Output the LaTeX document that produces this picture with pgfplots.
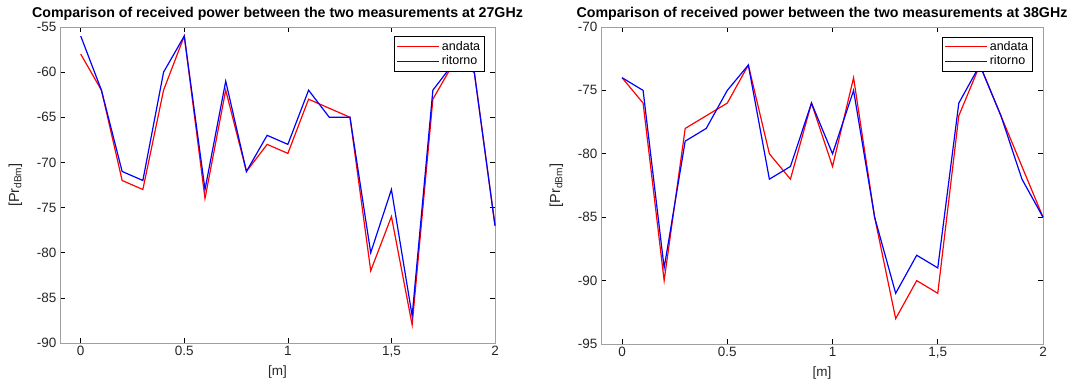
\documentclass[border=0pt]{standalone}
\usepackage{fontspec}
\setmainfont{Liberation Sans}
\usepackage{pgfplots}
\pgfplotsset{compat=1.18}
\definecolor{axgray}{RGB}{160,160,160}
\definecolor{txt}{RGB}{38,38,38}
\pgfplotsset{mstyle/.style={
  scale only axis,
  xmin=-0.1, xmax=2,
  xtick={0,0.5,1,1.5,2}, xticklabels={0,0.5,1,{1,5},2},
  tick align=inside, major tick length=5pt,
  tick style={black, line width=0.6pt},
  axis line style={axgray, line width=0.8pt},
  ticklabel style={font=\fontsize{13.5}{15}\selectfont, text=txt},
  /pgf/number format/assume math mode=true,
  xlabel={[m]}, ylabel={[Pr\textsubscript{dBm}]},
  label style={font=\fontsize{13.5}{15}\selectfont, text=txt},
  xlabel style={yshift=-1pt},
  ylabel style={yshift=8pt, font=\fontsize{14.5}{16}\selectfont},
  title style={font=\bfseries\fontsize{14.2}{16}\selectfont, yshift=-3pt},
  legend style={at={(0.977,0.97)}, anchor=north east, draw=black, line width=0.6pt,
     font=\fontsize{12.5}{14}\selectfont, row sep=0pt, inner sep=2.5pt},
  legend cell align=left,
  legend image code/.code={\draw[mark repeat=2,mark phase=2,line width=1.2pt,#1] plot coordinates {(0pt,0pt) (21pt,0pt) (42pt,0pt)};},
  every axis plot/.append style={line width=1.2pt, mark=none},
  clip=false,
}}
\begin{document}
\begin{tikzpicture}
\useasboundingbox (0,0) rectangle (1089pt,385pt);
\begin{axis}[mstyle, at={(60pt,42pt)}, anchor=south west, width=435pt, height=316pt,
  ymin=-90, ymax=-55, ytick={-90,-85,-80,-75,-70,-65,-60,-55},
  title={Comparison of received power between the two measurements at 27GHz}]
\addplot[red] coordinates {(0,-58) (0.1,-62) (0.2,-72) (0.3,-73) (0.4,-62) (0.5,-56) (0.6,-74) (0.7,-62) (0.8,-71) (0.9,-68) (1.0,-69) (1.1,-63) (1.2,-64) (1.3,-65) (1.4,-82) (1.5,-76) (1.6,-88) (1.7,-63) (1.8,-59) (1.9,-60) (2.0,-77)};
\addplot[blue] coordinates {(0,-56) (0.1,-62) (0.2,-71) (0.3,-72) (0.4,-60) (0.5,-56) (0.6,-73) (0.7,-61) (0.8,-71) (0.9,-67) (1.0,-68) (1.1,-62) (1.2,-65) (1.3,-65) (1.4,-80) (1.5,-73) (1.6,-87) (1.7,-62) (1.8,-59) (1.9,-60) (2.0,-77)};
\legend{andata,ritorno}
\end{axis}
\begin{axis}[mstyle, at={(601pt,41pt)}, anchor=south west, width=442pt, height=317pt,
  ymin=-95, ymax=-70, ytick={-95,-90,-85,-80,-75,-70},
  title={Comparison of received power between the two measurements at 38GHz}]
\addplot[red] coordinates {(0,-74) (0.1,-76) (0.2,-90) (0.3,-78) (0.4,-77) (0.5,-76) (0.6,-73) (0.7,-80) (0.8,-82) (0.9,-76) (1.0,-81) (1.1,-74) (1.2,-85) (1.3,-93) (1.4,-90) (1.5,-91) (1.6,-77) (1.7,-73) (1.8,-77) (1.9,-81) (2.0,-85)};
\addplot[blue] coordinates {(0,-74) (0.1,-75) (0.2,-89) (0.3,-79) (0.4,-78) (0.5,-75) (0.6,-73) (0.7,-82) (0.8,-81) (0.9,-76) (1.0,-80) (1.1,-75) (1.2,-85) (1.3,-91) (1.4,-88) (1.5,-89) (1.6,-76) (1.7,-73) (1.8,-77) (1.9,-82) (2.0,-85)};
\legend{andata,ritorno}
\end{axis}
\end{tikzpicture}
\end{document}
